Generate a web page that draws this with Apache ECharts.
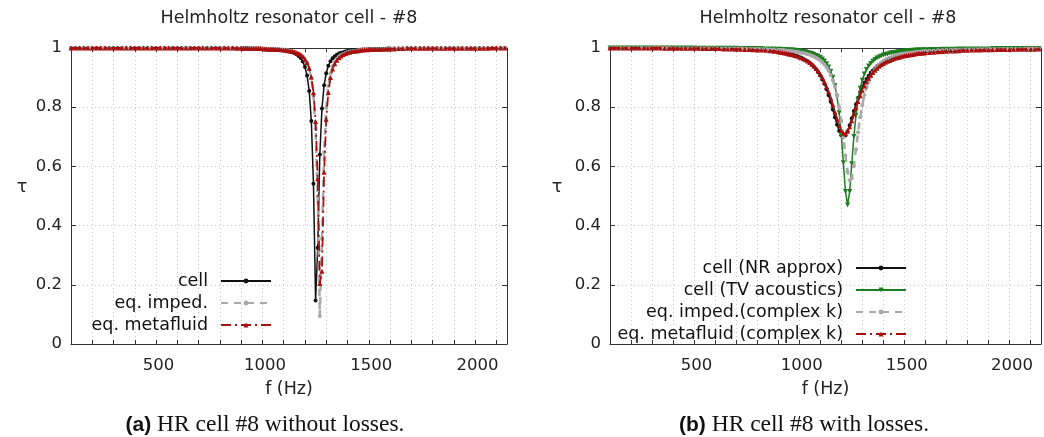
<!DOCTYPE html>
<html>
<head>
<meta charset="utf-8">
<script src="https://cdn.jsdelivr.net/npm/echarts@6/dist/echarts.min.js"></script>
<style>
html,body{margin:0;padding:0;background:#fff;}
#chart{width:1044px;height:437px;}
</style>
</head>
<body>
<div id="chart"></div>
<script>
// Frequency samples (Hz): coarse below 900 Hz and above 1600 Hz, 10 Hz around the resonance
const freq = [
  100,120,140,160,180,200,220,240,260,280,300,320,340,360,380,400,420,440,460,480,
  500,520,540,560,580,600,620,640,660,680,700,720,740,760,780,800,820,840,860,880,900,
  910,920,930,940,950,960,970,980,990,1000,
  1010,1020,1030,1040,1050,1060,1070,1080,1090,1100,
  1110,1120,1130,1140,1150,1160,1170,1180,1190,1200,
  1210,1220,1230,1240,1250,1260,1270,1280,1290,1300,
  1310,1320,1330,1340,1350,1360,1370,1380,1390,1400,
  1410,1420,1430,1440,1450,1460,1470,1480,1490,1500,
  1510,1520,1530,1540,1550,1560,1570,1580,1590,1600,
  1620,1640,1660,1680,1700,1720,1740,1760,1780,1800,1820,1840,1860,1880,1900,
  1920,1940,1960,1980,2000,2020,2040,2060,2080,2100,2120,2140
];

// (a) lossless cell: transmission coefficient tau
const tauCellLossless = [
  1,1,1,1,1,1,1,1,1,1, 1,1,1,1,1,1,1,1,1,1, 1,1,1,1,1,1,1,1,1,1, 1,1,1,1,1,1,1,1,1,0.999, 0.999,
  0.999,0.999,0.999,0.998,0.998,0.998,0.998,0.998,0.998,0.997,
  0.997,0.997,0.997,0.996,0.996,0.995,0.995,0.994,0.993,0.992,
  0.991,0.990,0.988,0.986,0.983,0.979,0.973,0.966,0.954,0.936,
  0.907,0.855,0.753,0.541,0.147,0.325,0.640,0.796,0.874,0.915,
  0.940,0.955,0.965,0.972,0.977,0.981,0.984,0.986,0.988,0.990,
  0.991,0.992,0.993,0.993,0.994,0.994,0.995,0.995,0.995,0.996,
  0.996,0.996,0.996,0.996,0.997,0.997,0.997,0.997,0.998,0.998,
  0.998,0.998,0.998,0.999,0.999,0.999,0.999,0.999,0.999,0.999,0.999,0.999,0.999,0.999,0.999,
  0.999,0.999,0.999,0.999,0.999,0.999,0.999,0.999,1,1,1,1
];
const tauImpedLossless = [
  1,1,1,1,1,1,1,1,1,1, 1,1,1,1,1,1,1,1,1,1, 1,1,1,1,1,1,1,1,1,1, 1,1,1,1,1,1,1,1,1,0.999, 0.999,
  0.999,0.999,0.999,0.999,0.998,0.998,0.998,0.998,0.998,0.998,
  0.997,0.997,0.997,0.996,0.996,0.996,0.995,0.995,0.995,0.994,
  0.993,0.992,0.990,0.989,0.987,0.984,0.981,0.977,0.971,0.962,
  0.950,0.930,0.897,0.839,0.727,0.498,0.095,0.355,0.648,0.797,
  0.872,0.914,0.938,0.953,0.964,0.971,0.976,0.980,0.983,0.986,
  0.988,0.989,0.990,0.991,0.992,0.993,0.994,0.994,0.995,0.995,
  0.995,0.996,0.996,0.996,0.996,0.997,0.997,0.997,0.997,0.997,
  0.998,0.998,0.998,0.999,0.999,0.999,0.999,0.999,0.999,0.999,0.999,0.999,0.999,0.999,0.999,
  0.999,0.999,0.999,0.999,0.999,0.999,0.999,0.999,1,1,1,1
];
const tauMetaLossless = [
  1,1,1,1,1,1,1,1,1,1, 1,1,1,1,1,1,1,1,1,1, 1,1,1,1,1,1,1,1,1,1, 1,1,1,1,1,1,1,1,1,0.999, 0.999,
  0.999,0.999,0.999,0.999,0.998,0.998,0.998,0.998,0.998,0.998,
  0.997,0.997,0.996,0.996,0.996,0.995,0.995,0.995,0.994,0.993,
  0.993,0.991,0.990,0.989,0.987,0.984,0.981,0.977,0.971,0.962,
  0.951,0.932,0.902,0.850,0.752,0.558,0.204,0.246,0.580,0.759,
  0.850,0.900,0.929,0.947,0.959,0.967,0.973,0.978,0.981,0.984,
  0.986,0.988,0.989,0.990,0.991,0.992,0.993,0.994,0.994,0.995,
  0.995,0.995,0.996,0.996,0.996,0.996,0.997,0.997,0.997,0.997,
  0.997,0.998,0.998,0.999,0.999,0.999,0.999,0.999,0.999,0.999,0.999,0.999,0.999,0.999,0.999,
  0.999,0.999,0.999,0.999,0.999,0.999,0.999,0.999,1,1,1,1
];

// (b) with losses
const tauCellNR = [
  1,1,1,1,1,1,1,1,1,1, 1,1,1,0.999,0.999,0.999,0.999,0.999,0.999,0.999,
  0.999,0.999,0.998,0.998,0.998,0.998,0.998,0.997,0.997,0.997,0.996,0.996,0.995,0.995,0.994,0.993,0.993,0.992,0.991,0.989,0.987,
  0.986,0.985,0.984,0.982,0.981,0.979,0.977,0.975,0.973,0.970,
  0.967,0.963,0.959,0.955,0.950,0.944,0.937,0.928,0.919,0.907,
  0.894,0.879,0.861,0.840,0.818,0.792,0.766,0.741,0.720,0.705,
  0.700,0.705,0.719,0.739,0.763,0.787,0.810,0.832,0.851,0.868,
  0.883,0.895,0.906,0.916,0.924,0.931,0.938,0.943,0.948,0.952,
  0.956,0.959,0.962,0.965,0.967,0.969,0.971,0.973,0.975,0.976,
  0.977,0.978,0.979,0.981,0.982,0.983,0.983,0.984,0.985,0.985,
  0.986,0.987,0.988,0.989,0.990,0.990,0.991,0.992,0.992,0.993,0.993,0.993,0.994,0.994,0.994,
  0.995,0.995,0.995,0.995,0.996,0.996,0.996,0.996,0.996,0.996,0.997,0.997
];
const tauCellTV = [
  1,1,1,1,1,1,1,1,1,1, 1,1,1,1,1,1,1,1,1,1, 1,
  0.999,0.999,0.999,0.999,0.999,0.999,0.999,0.999,0.999,0.999,
  0.998,0.998,0.998,0.998,0.998,0.998,0.997,0.997,0.997,0.996,
  0.996,0.995,0.995,0.994,0.994,0.993,0.993,0.992,0.991,0.990,
  0.989,0.988,0.987,0.985,0.983,0.981,0.978,0.975,0.972,0.968,
  0.963,0.956,0.947,0.936,0.921,0.901,0.873,0.835,0.781,0.707,
  0.612,0.515,0.470,0.515,0.609,0.701,0.773,0.826,0.864,0.891,
  0.912,0.927,0.939,0.948,0.955,0.961,0.966,0.970,0.973,0.976,
  0.978,0.980,0.982,0.984,0.985,0.986,0.987,0.988,0.989,0.990,
  0.990,0.991,0.991,0.992,0.992,0.993,0.993,0.993,0.994,0.994,
  0.995,0.995,0.995,0.996,0.996,0.996,0.996,0.997,0.997,0.997,0.997,0.997,0.997,0.997,0.997,
  0.998,0.998,0.998,0.998,0.998,0.998,0.998,0.998,0.998,0.998,0.998,0.998
];
const tauImpedComplex = [
  1,1,1,1,1,1,1,1,1,1, 1,1,1,1,1,
  0.999,0.999,0.999,0.999,0.999,0.999,0.999,0.999,0.999,0.999,0.999,
  0.998,0.998,0.998,0.998,0.998,0.998,0.997,0.997,0.997,0.997,0.996,0.996,0.995,0.995,0.994,
  0.993,0.993,0.992,0.991,0.991,0.990,0.989,0.988,0.987,0.986,
  0.984,0.983,0.981,0.979,0.977,0.974,0.971,0.967,0.963,0.958,
  0.952,0.944,0.935,0.923,0.909,0.891,0.868,0.839,0.801,0.754,
  0.698,0.637,0.582,0.553,0.560,0.601,0.658,0.715,0.766,0.807,
  0.841,0.867,0.887,0.904,0.917,0.928,0.937,0.944,0.951,0.956,
  0.960,0.964,0.967,0.970,0.973,0.975,0.977,0.979,0.980,0.981,
  0.982,0.983,0.984,0.985,0.986,0.987,0.987,0.988,0.989,0.990,
  0.990,0.991,0.992,0.992,0.993,0.993,0.994,0.994,0.994,0.995,0.995,0.995,0.996,0.996,0.996,
  0.996,0.996,0.997,0.997,0.997,0.997,0.997,0.997,0.998,0.998,0.998,0.998
];
const tauMetaComplex = [
  1,1,1,1,1,1,1,1,1,1, 1,1,1,0.999,0.999,0.999,0.999,0.999,0.999,0.999,
  0.999,0.999,0.998,0.998,0.998,0.998,0.998,0.997,0.997,0.997,0.996,0.996,0.995,0.995,0.994,0.993,0.993,0.992,0.991,0.989,0.987,
  0.986,0.985,0.983,0.982,0.980,0.979,0.977,0.975,0.973,0.970,
  0.967,0.964,0.960,0.956,0.951,0.945,0.939,0.931,0.922,0.912,
  0.900,0.886,0.870,0.852,0.831,0.808,0.784,0.760,0.738,0.721,
  0.712,0.710,0.719,0.734,0.754,0.776,0.798,0.819,0.839,0.857,
  0.872,0.886,0.898,0.908,0.917,0.925,0.932,0.938,0.943,0.948,
  0.952,0.955,0.958,0.961,0.964,0.966,0.968,0.970,0.972,0.974,
  0.975,0.976,0.977,0.978,0.980,0.981,0.982,0.982,0.983,0.984,
  0.985,0.986,0.987,0.988,0.989,0.990,0.990,0.991,0.992,0.992,0.993,0.993,0.993,0.994,0.994,
  0.994,0.995,0.995,0.995,0.995,0.996,0.996,0.996,0.996,0.996,0.996,0.997
];

const xTickLabels = [500, 1000, 1500, 2000];
const yTickLabels = [0, 0.2, 0.4, 0.6, 0.8, 1];

const panelTitle = 'Helmholtz resonator cell - #8';
const yName = 'τ';
const xName = 'f (Hz)';
const legendA = ['cell', 'eq. imped.', 'eq. metafluid'];
const legendB = ['cell (NR approx)', 'cell (TV acoustics)', 'eq. imped.(complex k)', 'eq. metafluid (complex k)'];

const FONT = 'DejaVu Sans';
const TEXT = 17.5, TICK = 16.5;
const BLACK = '#111111', GRAY = '#a9a9a9', RED = '#a81010', GREEN = '#1e7d1e';

function pairs(vals) { return freq.map((f, i) => [f, vals[i]]); }

const plotW = 436, plotH = 296, plotTop = 48;
const grids = [
  {left: 71, top: plotTop, width: plotW, height: plotH},
  {left: 610, top: plotTop, width: plotW, height: plotH}
];

function xAxes(gi) {
  const base = {
    gridIndex: gi, type: 'value', min: 100, max: 2150, interval: 100,
    axisLine: {show: true, onZero: false, lineStyle: {color: '#333', width: 1}},
    axisTick: {show: true, inside: true, length: 4, lineStyle: {color: '#333'}},
    splitLine: {show: false}
  };
  return [
    Object.assign({}, base, {
      position: 'bottom',
      name: xName, nameLocation: 'middle', nameGap: 36,
      nameTextStyle: {fontFamily: FONT, fontSize: TEXT, color: '#222'},
      axisLabel: {show: true, fontFamily: FONT, fontSize: TICK, color: '#222', margin: 13,
        padding: [0, 0, 0, 5],
        formatter: v => xTickLabels.indexOf(v) >= 0 ? String(v) : ''},
      splitLine: {show: true, lineStyle: {color: '#c8c8c8', type: [1, 3], width: 1}}
    }),
    Object.assign({}, base, {position: 'top', axisLabel: {show: false}})
  ];
}
function yAxes(gi) {
  const base = {
    gridIndex: gi, type: 'value', min: 0, max: 1, interval: 0.2,
    axisLine: {show: true, onZero: false, lineStyle: {color: '#333', width: 1}},
    axisTick: {show: true, inside: true, length: 5, lineStyle: {color: '#333'}},
    splitLine: {show: false}
  };
  return [
    Object.assign({}, base, {
      position: 'left',
      axisLabel: {show: true, fontFamily: FONT, fontSize: TICK, color: '#222', margin: 9,
        formatter: v => { const t = yTickLabels.find(y => Math.abs(y - v) < 1e-6); return t === undefined ? '' : String(t); }},
      splitLine: {show: true, lineStyle: {color: '#c8c8c8', type: [1, 3], width: 1}}
    }),
    Object.assign({}, base, {position: 'right', axisLabel: {show: false}})
  ];
}

function line(name, vals, xi, yi, color, type, width, symbol, size, z, rotate) {
  return {
    name, type: 'line', xAxisIndex: xi, yAxisIndex: yi, data: pairs(vals),
    showSymbol: true, symbol, symbolSize: size, symbolRotate: rotate || 0,
    lineStyle: {color, width, type}, itemStyle: {color},
    animation: false, z, clip: true
  };
}

function legend(names, right, top) {
  return {
    data: names, orient: 'vertical', align: 'right', right, top, padding: 0,
    itemWidth: 50, itemHeight: 6, itemGap: 4,
    textStyle: {fontFamily: FONT, fontSize: TEXT, color: '#111', padding: [0, 8, 0, 0]},
    selectedMode: false
  };
}

function label(text, x, y) {
  return {type: 'text', x, y, style: {text, font: TEXT + 'px "DejaVu Sans"', fill: '#222', align: 'center', verticalAlign: 'middle'}};
}
function caption(tag, text, x) {
  return {type: 'text', x, y: 425, style: {
    text: '{b|' + tag + '}{r| ' + text + '}', align: 'center', verticalAlign: 'middle',
    rich: {b: {font: 'bold 21px "Liberation Sans"', fill: '#111'}, r: {font: '23.5px "Liberation Serif"', fill: '#111'}}
  }};
}

const chart = echarts.init(document.getElementById('chart'), null, {renderer: 'canvas'});
chart.setOption({
  backgroundColor: '#ffffff',
  animation: false,
  grid: grids,
  xAxis: [...xAxes(0), ...xAxes(1)],
  yAxis: [...yAxes(0), ...yAxes(1)],
  legend: [legend(legendA, 772, 272), legend(legendB, 137, 259)],
  series: [
    line(legendA[0], tauCellLossless, 0, 0, BLACK, 'solid', 1.5, 'circle', 4, 3),
    line(legendA[1], tauImpedLossless, 0, 0, GRAY, [7, 6], 2.5, 'circle', 4, 4),
    line(legendA[2], tauMetaLossless, 0, 0, RED, [10, 4, 2, 4], 1.8, 'triangle', 5, 5),
    line(legendB[0], tauCellNR, 2, 2, BLACK, 'solid', 1.5, 'circle', 4, 3),
    line(legendB[1], tauCellTV, 2, 2, GREEN, 'solid', 1.5, 'triangle', 5, 4, 180),
    line(legendB[2], tauImpedComplex, 2, 2, GRAY, [7, 6], 2.5, 'circle', 4, 5),
    line(legendB[3], tauMetaComplex, 2, 2, RED, [10, 4, 2, 4], 1.8, 'triangle', 5, 6)
  ],
  graphic: [
    label(panelTitle, 289, 18),
    label(panelTitle, 828, 18),
    label(yName, 22, 187),
    label(yName, 557, 187),
    caption('(a)', 'HR cell #8 without losses.', 265),
    caption('(b)', 'HR cell #8 with losses.', 804)
  ]
});
</script>
</body>
</html>
